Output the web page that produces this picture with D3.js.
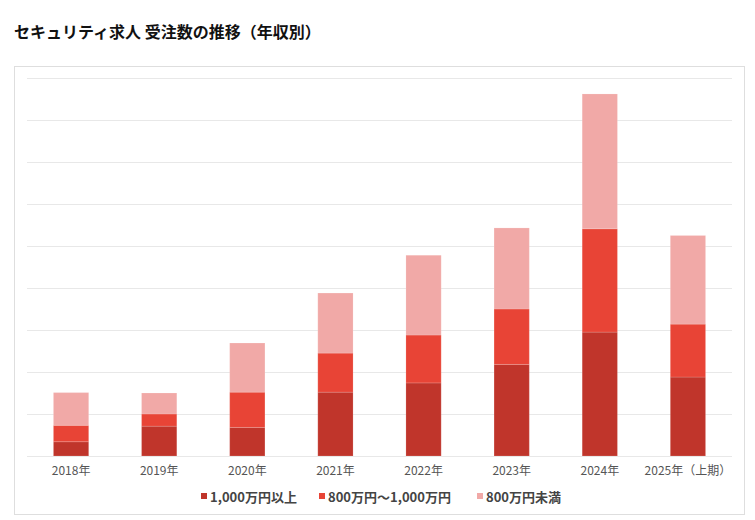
<!DOCTYPE html>
<html>
<head>
<meta charset="utf-8">
<script src="https://cdn.jsdelivr.net/npm/d3@7"></script>
<style>
  html, body { margin: 0; padding: 0; background: #fff; }
  svg { display: block; }
</style>
</head>
<body>
<svg id="chart" width="755" height="520"></svg>
<script>
// ---- data ----
const categories = ["2018年", "2019年", "2020年", "2021年", "2022年", "2023年", "2024年", "2025年（上期）"];
const seriesNames = ["1,000万円以上", "800万円～1,000万円", "800万円未満"];
const over1000 = [34, 71, 68, 152, 174, 218, 295, 188];
const from800to1000 = [39, 29, 84, 93, 114, 132, 246, 126];
const under800 = [78, 50, 117, 143, 190, 193, 321, 211];
const gridTicks = [0, 100, 200, 300, 400, 500, 600, 700, 800, 900];
const colors = ["#c0352b", "#e84436", "#f1a9a7"];

const svg = d3.select("#chart");
const fontJP = "'Noto Sans CJK JP', 'Noto Sans', sans-serif";

// outer panel
svg.append("rect")
  .attr("x", 14.5).attr("y", 66.5).attr("width", 730).attr("height", 448)
  .attr("fill", "#fff").attr("stroke", "#dedede").attr("stroke-width", 1);

// title
svg.append("text")
  .attr("x", 14).attr("y", 38)
  .attr("font-family", fontJP).attr("font-size", 16).attr("font-weight", 700)
  .attr("fill", "#111")
  .text("セキュリティ求人 受注数の推移（年収別）");

const x = d3.scaleBand().domain(categories).range([27, 732]).paddingInner(0.6).paddingOuter(0.3);
const y = d3.scaleLinear().domain([0, 900]).range([456, 78]);

// gridlines
svg.append("g")
  .attr("transform", "translate(27,0)")
  .call(d3.axisLeft(y).tickValues(gridTicks).tickSize(-705).tickFormat(""))
  .call(g => g.select(".domain").remove())
  .call(g => g.selectAll(".tick line").attr("stroke", "#e8e8e8").attr("stroke-width", 1.2));

// stacked data
const rows = categories.map((c, i) => ({ cat: c, s0: over1000[i], s1: from800to1000[i], s2: under800[i] }));
const stack = d3.stack().keys(["s0", "s1", "s2"]);
const layers = stack(rows);

svg.append("g").selectAll("g").data(layers).join("g")
  .attr("fill", (d, i) => colors[i])
  .selectAll("rect").data(d => d).join("rect")
  .attr("x", d => x(d.data.cat))
  .attr("width", x.bandwidth())
  .attr("y", d => y(d[1]))
  .attr("height", d => y(d[0]) - y(d[1]))
  .attr("stroke", "rgba(255,255,255,0.15)")
  .attr("stroke-width", 1);

// x axis labels
svg.append("g")
  .attr("transform", "translate(0,456)")
  .call(d3.axisBottom(x).tickSize(0).tickPadding(10))
  .call(g => g.select(".domain").remove())
  .call(g => g.selectAll("text")
    .attr("font-family", fontJP).attr("font-size", 12).attr("fill", "#555"));

// legend
const legendX = [201, 319, 477];
const lg = svg.append("g");
seriesNames.forEach((name, i) => {
  lg.append("rect")
    .attr("x", legendX[i]).attr("y", 493).attr("width", 6).attr("height", 6)
    .attr("fill", colors[i]);
  lg.append("text")
    .attr("x", legendX[i] + 9).attr("y", 501.5)
    .attr("font-family", fontJP).attr("font-size", 13).attr("font-weight", 700)
    .attr("fill", "#444")
    .text(name);
});
</script>
</body>
</html>
